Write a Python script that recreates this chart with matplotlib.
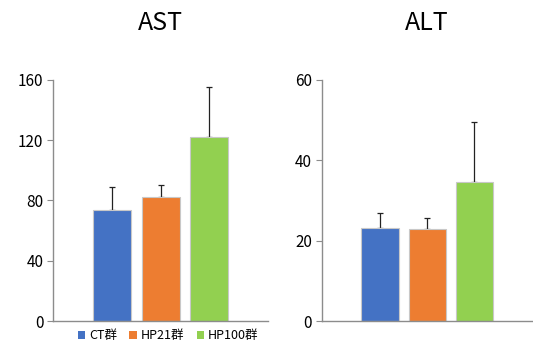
import numpy as np
import matplotlib.pyplot as plt
from matplotlib.patches import Patch

plt.rcParams['font.family'] = ['Noto Sans CJK JP', 'DejaVu Sans']

# データ
groups = ["CT群", "HP21群", "HP100群"]
colors = ["#4472C4", "#ED7D31", "#92D050"]

ast_mean = [74, 82, 122]
ast_sd = [15, 8, 33]
alt_mean = [23.2, 23.0, 34.6]
alt_sd = [3.6, 2.6, 15.0]

fig = plt.figure(figsize=(5.33, 3.43), dpi=100)
ax1 = fig.add_axes([0.0994, 0.064, 0.403, 0.703])
ax2 = fig.add_axes([0.604, 0.064, 0.394, 0.703])

x = np.arange(len(groups))


def draw(ax, mean, sd, ymax, step, title):
    ax.bar(x, mean, width=0.79, color=colors, edgecolor="#c8c8c8", linewidth=0.8, zorder=2)
    ax.errorbar(x, mean, yerr=[np.zeros(len(sd)), sd], fmt="none",
                ecolor="#222222", elinewidth=0.9, capsize=2.5, capthick=0.9, zorder=1)
    ax.set_xlim(-1.23, 3.22)
    ax.set_ylim(0, ymax)
    ax.set_yticks(np.arange(0, ymax + 1, step))
    ax.set_xticks([])
    for s in ["top", "right"]:
        ax.spines[s].set_visible(False)
    ax.spines["left"].set_color("#8c8c8c")
    ax.spines["bottom"].set_color("#8c8c8c")
    ax.spines["left"].set_linewidth(1.0)
    ax.spines["bottom"].set_linewidth(1.0)
    ax.tick_params(axis="y", length=4, color="#8c8c8c", labelsize=11, pad=3)
    ax.set_title(title, fontsize=18, pad=36)


draw(ax1, ast_mean, ast_sd, 160, 40, "AST")
draw(ax2, alt_mean, alt_sd, 60, 20, "ALT")

handles = [Patch(facecolor=c, edgecolor="none") for c in colors]
fig.legend(handles, groups, loc="center", bbox_to_anchor=(0.315, 0.022), ncol=3,
           frameon=False, fontsize=9, handlelength=0.6, handleheight=0.6,
           handletextpad=0.3, columnspacing=1.0, borderpad=0.1)

fig.savefig("out.png", dpi=100)
